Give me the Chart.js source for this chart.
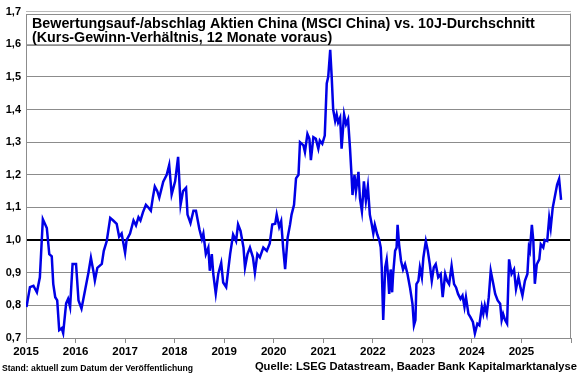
<!DOCTYPE html>
<html lang="de">
<head>
<meta charset="utf-8">
<script src="https://cdn.jsdelivr.net/npm/chart.js@4"></script>
<style>
  html, body { margin: 0; padding: 0; background: #fff; }
  #wrap { width: 580px; height: 375px; position: relative; }
</style>
</head>
<body>
<div id="wrap"><canvas id="kgvChart"></canvas></div>
<script>
// Texte
const titelZeilen = [
  'Bewertungsauf-/abschlag Aktien China (MSCI China) vs. 10J-Durchschnitt',
  '(Kurs-Gewinn-Verhältnis, 12 Monate voraus)'
];
const quelle = 'Quelle: LSEG Datastream, Baader Bank Kapitalmarktanalyse';
const stand = 'Stand: aktuell zum Datum der Veröffentlichung';

// Achsen
const jahrLabels = [2015, 2016, 2017, 2018, 2019, 2020, 2021, 2022, 2023, 2024, 2025];
const yMin = 0.7, yMax = 1.7, yStep = 0.1;
const durchschnitt = 1.0;

// Datum (Dezimaljahr) und Bewertung relativ zum 10J-Durchschnitt
const jahre = [
  2015.01, 2015.08, 2015.15, 2015.22, 2015.28, 2015.34, 2015.42, 2015.47, 2015.52, 2015.55,
  2015.59, 2015.63, 2015.67, 2015.72, 2015.75, 2015.81, 2015.85, 2015.89, 2015.94, 2016.01,
  2016.06, 2016.12, 2016.19, 2016.26, 2016.31, 2016.36, 2016.39, 2016.44, 2016.53, 2016.57,
  2016.63, 2016.70, 2016.76, 2016.83, 2016.88, 2016.93, 2017.00, 2017.03, 2017.10, 2017.17,
  2017.22, 2017.27, 2017.31, 2017.36, 2017.42, 2017.47, 2017.52, 2017.56, 2017.60, 2017.65,
  2017.69, 2017.77, 2017.84, 2017.89, 2017.94, 2018.01, 2018.07, 2018.12, 2018.17, 2018.23,
  2018.26, 2018.32, 2018.38, 2018.43, 2018.50, 2018.55, 2018.58, 2018.63, 2018.68, 2018.71,
  2018.75, 2018.78, 2018.83, 2018.88, 2018.94, 2018.98, 2019.04, 2019.12, 2019.18, 2019.24,
  2019.28, 2019.33, 2019.39, 2019.42, 2019.47, 2019.52, 2019.58, 2019.62, 2019.67, 2019.72,
  2019.79, 2019.86, 2019.92, 2019.97, 2020.03, 2020.06, 2020.11, 2020.15, 2020.19, 2020.23,
  2020.28, 2020.33, 2020.36, 2020.41, 2020.45, 2020.50, 2020.53, 2020.60, 2020.63, 2020.68,
  2020.72, 2020.75, 2020.80, 2020.85, 2020.90, 2020.93, 2020.98, 2021.03, 2021.07, 2021.10,
  2021.14, 2021.17, 2021.20, 2021.24, 2021.27, 2021.30, 2021.34, 2021.37, 2021.42, 2021.46,
  2021.50, 2021.54, 2021.57, 2021.59, 2021.63, 2021.66, 2021.71, 2021.74, 2021.78, 2021.82,
  2021.86, 2021.90, 2021.94, 2021.98, 2022.01, 2022.04, 2022.09, 2022.13, 2022.16, 2022.18,
  2022.21, 2022.25, 2022.28, 2022.31, 2022.33, 2022.36, 2022.39, 2022.41, 2022.45, 2022.48,
  2022.50, 2022.53, 2022.57, 2022.61, 2022.65, 2022.70, 2022.75, 2022.80, 2022.83, 2022.86,
  2022.88, 2022.92, 2022.95, 2022.99, 2023.02, 2023.05, 2023.07, 2023.11, 2023.15, 2023.19,
  2023.23, 2023.27, 2023.32, 2023.37, 2023.41, 2023.46, 2023.50, 2023.54, 2023.59, 2023.64,
  2023.68, 2023.72, 2023.77, 2023.81, 2023.85, 2023.88, 2023.93, 2023.97, 2024.02, 2024.06,
  2024.11, 2024.15, 2024.20, 2024.23, 2024.26, 2024.30, 2024.34, 2024.38, 2024.42, 2024.47,
  2024.52, 2024.57, 2024.60, 2024.63, 2024.67, 2024.71, 2024.75, 2024.80, 2024.85, 2024.89,
  2024.94, 2024.98, 2025.02, 2025.07, 2025.12, 2025.15, 2025.17, 2025.21, 2025.24, 2025.27,
  2025.31, 2025.36, 2025.39, 2025.44, 2025.47, 2025.52, 2025.56, 2025.59, 2025.63, 2025.68,
  2025.72, 2025.76, 2025.80
];
const bewertung = [
  0.795, 0.856, 0.860, 0.840, 0.886, 1.064, 1.037, 0.957, 0.950, 0.866,
  0.825, 0.815, 0.724, 0.730, 0.715, 0.806, 0.820, 0.795, 0.927, 0.927,
  0.815, 0.790, 0.845, 0.900, 0.946, 0.905, 0.876, 0.915, 0.927, 0.967,
  0.997, 1.068, 1.060, 1.050, 1.010, 1.020, 0.961, 1.000, 1.020, 1.060,
  1.045, 1.070, 1.060, 1.085, 1.108, 1.100, 1.090, 1.130, 1.164, 1.150,
  1.130, 1.179, 1.200, 1.230, 1.140, 1.180, 1.255, 1.108, 1.150, 1.160,
  1.078, 1.052, 1.090, 1.090, 1.033, 1.003, 1.020, 0.957, 0.977, 0.906,
  0.957, 0.896, 0.836, 0.896, 0.930, 0.870, 0.856, 0.957, 1.017, 0.997,
  1.048, 1.028, 0.977, 0.916, 0.957, 0.977, 0.947, 0.900, 0.957, 0.947,
  0.977, 0.967, 0.990, 1.048, 1.050, 1.078, 1.040, 1.058, 0.977, 0.911,
  1.007, 1.048, 1.078, 1.108, 1.189, 1.200, 1.300, 1.290, 1.270, 1.325,
  1.310, 1.245, 1.315, 1.310, 1.280, 1.305, 1.295, 1.320, 1.480, 1.500,
  1.583, 1.500, 1.400, 1.365, 1.385, 1.360, 1.375, 1.280, 1.385, 1.355,
  1.370, 1.280, 1.199, 1.138, 1.200, 1.150, 1.209, 1.128, 1.088, 1.180,
  1.120, 1.165, 1.078, 1.047, 1.020, 1.047, 1.017, 1.000, 0.977, 0.916,
  0.755, 0.916, 0.940, 0.886, 0.835, 0.910, 0.840, 0.896, 0.967, 0.977,
  1.047, 0.987, 0.936, 0.910, 0.926, 0.896, 0.855, 0.805, 0.739, 0.755,
  0.865, 0.875, 0.916, 0.886, 0.946, 0.977, 0.997, 0.967, 0.926, 0.875,
  0.916, 0.926, 0.886, 0.896, 0.825, 0.896, 0.875, 0.865, 0.921, 0.865,
  0.855, 0.835, 0.820, 0.830, 0.795, 0.825, 0.774, 0.764, 0.749, 0.714,
  0.744, 0.739, 0.795, 0.774, 0.800, 0.774, 0.825, 0.906, 0.875, 0.835,
  0.815, 0.805, 0.755, 0.774, 0.755, 0.744, 0.941, 0.896, 0.910, 0.850,
  0.886, 0.855, 0.830, 0.875, 0.896, 0.977, 0.967, 1.047, 0.997, 0.866,
  0.926, 0.941, 0.987, 0.977, 1.000, 0.997, 1.068, 1.037, 1.098, 1.138,
  1.170, 1.187, 1.123
];

const grau = '#8c8c8c';
const schrift = '"Liberation Sans", Arial, sans-serif';

// Titelbox im oberen Band, Rahmen und Fußzeilen
const rahmenPlugin = {
  id: 'rahmen',
  beforeDatasetsDraw(chart) {
    const { ctx, chartArea: a, scales: { y } } = chart;
    const top = y.getPixelForValue(yMax) + 2;
    const unten = y.getPixelForValue(yMax - yStep);
    ctx.save();
    ctx.fillStyle = '#fff';
    ctx.fillRect(a.left, top - 2, a.right - a.left, unten - top + 2);
    ctx.strokeStyle = grau;
    ctx.lineWidth = 1;
    ctx.strokeRect(a.left + 0.5, Math.round(top) + 0.5, a.right - a.left - 1, Math.round(unten - top));
    ctx.fillStyle = '#000';
    ctx.font = 'bold 14.3px ' + schrift;
    ctx.textBaseline = 'alphabetic';
    ctx.fillText(titelZeilen[0], a.left + 6, top + 14);
    ctx.fillText(titelZeilen[1], a.left + 6, top + 28);
    ctx.restore();
  },
  afterDraw(chart) {
    const { ctx, chartArea: a } = chart;
    ctx.save();
    ctx.strokeStyle = grau;
    ctx.lineWidth = 1;
    ctx.beginPath();
    ctx.moveTo(Math.round(a.right) - 0.5, a.top + 2);
    ctx.lineTo(Math.round(a.right) - 0.5, a.bottom);
    ctx.stroke();
    ctx.fillStyle = '#000';
    ctx.textBaseline = 'alphabetic';
    ctx.font = 'bold 8.6px ' + schrift;
    ctx.textAlign = 'left';
    ctx.fillText(stand, 2, 371);
    ctx.font = 'bold 11.2px ' + schrift;
    ctx.textAlign = 'right';
    ctx.fillText(quelle, 577, 370);
    ctx.restore();
  }
};

new Chart(document.getElementById('kgvChart'), {
  type: 'line',
  data: {
    datasets: [{
      label: 'Bewertung vs. 10J-Durchschnitt',
      data: jahre.map((j, i) => ({ x: j, y: bewertung[i] })),
      borderColor: '#0000e6',
      borderWidth: 2.5,
      pointRadius: 0,
      tension: 0,
      fill: false
    }]
  },
  options: {
    responsive: true,
    maintainAspectRatio: false,
    animation: false,
    devicePixelRatio: 1,
    layout: { padding: { top: 10, right: 9, left: 0, bottom: 0 } },
    plugins: {
      legend: { display: false },
      tooltip: { enabled: false }
    },
    scales: {
      x: {
        type: 'linear',
        min: jahrLabels[0],
        max: jahrLabels[jahrLabels.length - 1] + 1,
        afterBuildTicks: (s) => { s.ticks = jahrLabels.concat([s.max]).map(v => ({ value: v })); },
        afterFit: (s) => { s.height = 37; },
        ticks: {
          autoSkip: false,
          maxRotation: 0,
          padding: 2,
          color: '#000',
          font: { family: schrift, size: 11.5, weight: 'bold' },
          callback: (v) => jahrLabels.includes(v) ? String(v) : ''
        },
        grid: { drawOnChartArea: false, drawTicks: true, tickLength: 5, color: grau },
        border: { color: grau }
      },
      y: {
        min: yMin,
        max: yMax,
        afterFit: (s) => { s.width = 26; },
        ticks: {
          stepSize: yStep,
          padding: 5,
          color: '#000',
          font: { family: schrift, size: 11, weight: 'bold' },
          callback: (v) => v.toFixed(1).replace('.', ',')
        },
        grid: {
          drawTicks: false,
          color: (c) => Math.abs(c.tick.value - durchschnitt) < 1e-6 ? '#000' : grau,
          lineWidth: (c) => Math.abs(c.tick.value - durchschnitt) < 1e-6 ? 2 : 1
        },
        border: { color: grau }
      }
    }
  },
  plugins: [rahmenPlugin]
});
</script>
</body>
</html>
